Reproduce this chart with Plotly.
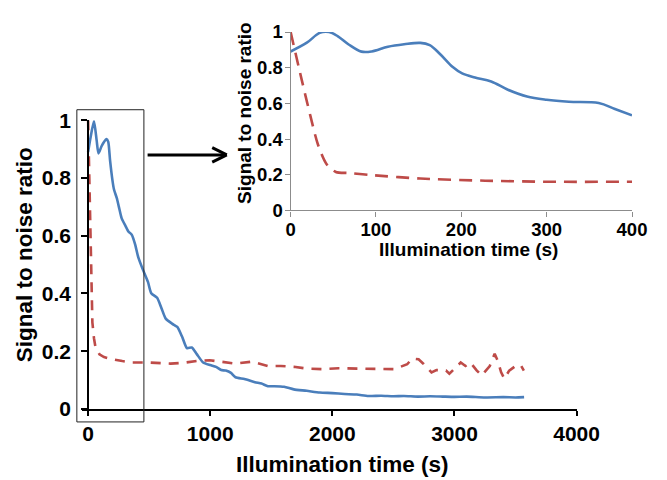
import plotly.graph_objects as go

# ---------------- data ----------------
main_time_blue = [0, 20, 48, 70, 85, 110, 130, 151, 165, 180, 200, 212, 235, 252, 275, 305, 330, 358, 385,
                  411, 451, 490, 517, 565, 600, 637, 690, 730, 770, 809, 849, 890, 942, 1000, 1048, 1090,
                  1127, 1170, 1207, 1280, 1366, 1420, 1472, 1525, 1605, 1684, 1790, 1897, 2000, 2100,
                  2200, 2295, 2400, 2500, 2586, 2700, 2800, 2904, 3000, 3100, 3250, 3400, 3500, 3570]
main_blue = [0.89, 0.94, 0.997, 0.93, 0.885, 0.91, 0.925, 0.935, 0.925, 0.86, 0.79, 0.76, 0.73, 0.70, 0.66,
             0.635, 0.615, 0.603, 0.57, 0.525, 0.48, 0.44, 0.401, 0.385, 0.35, 0.312, 0.295, 0.284, 0.25,
             0.211, 0.213, 0.19, 0.161, 0.152, 0.146, 0.135, 0.133, 0.125, 0.110, 0.104, 0.093, 0.088,
             0.079, 0.079, 0.077, 0.068, 0.063, 0.057, 0.055, 0.052, 0.050, 0.045, 0.046, 0.044, 0.045,
             0.043, 0.044, 0.043, 0.042, 0.043, 0.040, 0.041, 0.040, 0.041]

main_time_red = [0, 8, 13, 19, 27, 35, 48, 60, 75, 93, 130, 199, 280, 358, 491, 600, 676, 780, 889, 995,
                 1100, 1207, 1340, 1400, 1472, 1578, 1684, 1790, 1923, 2050, 2188, 2350, 2506, 2613, 2653,
                 2706, 2745, 2812, 2852, 2931, 2958, 3011, 3051, 3090, 3130, 3183, 3223, 3289, 3329, 3355,
                 3382, 3408, 3448, 3514, 3545, 3568]
main_red = [1.0, 0.85, 0.73, 0.625, 0.40, 0.30, 0.245, 0.215, 0.205, 0.189, 0.18, 0.172, 0.166, 0.161,
            0.161, 0.160, 0.157, 0.160, 0.166, 0.169, 0.162, 0.157, 0.164, 0.158, 0.149, 0.149, 0.146,
            0.140, 0.138, 0.141, 0.140, 0.139, 0.138, 0.155, 0.175, 0.172, 0.157, 0.127, 0.135, 0.133,
            0.122, 0.144, 0.161, 0.149, 0.161, 0.133, 0.116, 0.149, 0.191, 0.166, 0.127, 0.105, 0.133,
            0.153, 0.150, 0.133]

inset_time_blue = [0, 19, 34, 45, 55, 68, 83, 95, 114, 133, 152, 163, 175, 190, 201, 216, 235, 254, 277,
                   300, 326, 361, 380, 400]
inset_blue = [0.891, 0.94, 0.995, 1.0, 0.977, 0.93, 0.89, 0.891, 0.917, 0.931, 0.939, 0.926, 0.877, 0.804,
              0.768, 0.745, 0.723, 0.678, 0.638, 0.62, 0.609, 0.602, 0.569, 0.533]

inset_time_red = [0, 13, 23, 32, 42, 53, 68, 95, 152, 228, 304, 400]
inset_red = [1.0, 0.732, 0.533, 0.37, 0.261, 0.216, 0.21, 0.198, 0.179, 0.167, 0.161, 0.161]

main_x_ticks = [0, 1000, 2000, 3000, 4000]
inset_x_ticks = [0, 100, 200, 300, 400]
y_ticks = [0, 0.2, 0.4, 0.6, 0.8, 1]
y_tick_text = ["0", "0.2", "0.4", "0.6", "0.8", "1"]

x_title = "Illumination time (s)"
y_title = "Signal to noise ratio"

# ---------------- styling ----------------
BLUE = "#4A7EBB"
RED = "#BE4B48"
FONT = "Liberation Sans, Arial, Helvetica, sans-serif"
OFF = 8                      # default body margin of the page
W, H = 667 - OFF, 480 - OFF
ML, MR, MT, MB = 82 - OFF, 19, 21 - OFF, 71
PW, PH = W - ML - MR, H - MT - MB
P_LEFT, P_BOTTOM = ML + OFF, MT + OFF + PH   # plot area edges in window pixels


def pxx(x):
    return (x - P_LEFT) / PW


def pxy(y):
    return (P_BOTTOM - y) / PH


fig = go.Figure()

fig.add_trace(go.Scatter(x=main_time_red, y=main_red, mode="lines", xaxis="x", yaxis="y",
                         line=dict(color=RED, width=2.6, dash="10px,8px"), showlegend=False))
fig.add_trace(go.Scatter(x=main_time_blue, y=main_blue, mode="lines", xaxis="x", yaxis="y",
                         line=dict(color=BLUE, width=2.6, shape="spline", smoothing=0.6), showlegend=False))
fig.add_trace(go.Scatter(x=inset_time_red, y=inset_red, mode="lines", xaxis="x2", yaxis="y2",
                         line=dict(color=RED, width=2.6, dash="13px,8px", shape="spline", smoothing=0.8),
                         showlegend=False))
fig.add_trace(go.Scatter(x=inset_time_blue, y=inset_blue, mode="lines", xaxis="x2", yaxis="y2",
                         line=dict(color=BLUE, width=2.6, shape="spline", smoothing=1.0), showlegend=False))

main_tickfont = dict(family=FONT, size=21, color="black", weight="bold")
inset_tickfont = dict(family=FONT, size=18.5, color="black", weight="bold")

fig.update_layout(
    width=W, height=H,
    margin=dict(l=ML, r=MR, t=MT, b=MB, pad=0),
    paper_bgcolor="white", plot_bgcolor="rgba(0,0,0,0)",
    font=dict(family=FONT),
    xaxis=dict(domain=[0, pxx(591)], range=[-50, 4000], anchor="y",
               tickvals=main_x_ticks, ticks="outside", ticklen=5, tickwidth=2, tickcolor="black",
               showline=True, linecolor="black", linewidth=2, showgrid=False, zeroline=False,
               tickfont=main_tickfont, ticklabelstandoff=0),
    yaxis=dict(domain=[0, pxy(111.8)], range=[0, 1], anchor="free", position=pxx(88.3),
               tickvals=y_ticks, ticktext=y_tick_text, ticks="outside", ticklen=6, tickwidth=2,
               tickcolor="black", showline=True, linecolor="black", linewidth=2, showgrid=False,
               zeroline=False, tickfont=main_tickfont, ticklabelstandoff=6),
    xaxis2=dict(domain=[pxx(296.7), 1], range=[0, 400], anchor="y2",
                tickvals=inset_x_ticks, ticks="outside", ticklen=5, tickwidth=1.2, tickcolor="#8C8C8C",
                showline=True, linecolor="#8C8C8C", linewidth=1.2, showgrid=False, zeroline=False,
                tickfont=inset_tickfont, ticklabelstandoff=-3),
    yaxis2=dict(domain=[pxy(204.7), 1], range=[0, 1], anchor="x2",
                tickvals=y_ticks, ticktext=y_tick_text, ticks="outside", ticklen=5, tickwidth=1.2,
                tickcolor="#8C8C8C", showline=True, linecolor="#8C8C8C", linewidth=1.2, showgrid=False,
                zeroline=False, tickfont=inset_tickfont, ticklabelstandoff=-2),
)

title_main = dict(family=FONT, size=22.5, color="black", weight="bold")
title_inset = dict(family=FONT, size=19, color="black", weight="bold")
fig.add_annotation(text=x_title, xref="paper", yref="paper", x=pxx(350), y=pxy(466),
                   xanchor="center", yanchor="middle", showarrow=False, font=title_main)
fig.add_annotation(text=y_title, xref="paper", yref="paper", x=pxx(23), y=pxy(250), textangle=-90,
                   xanchor="center", yanchor="middle", showarrow=False, font=title_main)
fig.add_annotation(text=x_title, xref="paper", yref="paper", x=pxx(479.7), y=pxy(245),
                   xanchor="center", yanchor="middle", showarrow=False, font=title_inset)
fig.add_annotation(text=y_title, xref="paper", yref="paper", x=pxx(249), y=pxy(104), textangle=-90,
                   xanchor="center", yanchor="middle", showarrow=False, font=title_inset)

# zoom box around the early part of the main chart
fig.add_shape(type="rect", xref="paper", yref="paper", x0=pxx(76.7), x1=pxx(145.7),
              y0=pxy(422.3), y1=pxy(101), line=dict(color="#222222", width=1))
# arrow to the inset
arrow = dict(color="black", width=3)
fig.add_shape(type="line", xref="paper", yref="paper", x0=pxx(149.5), x1=pxx(230), y0=pxy(147.5),
              y1=pxy(147.5), line=arrow)
fig.add_shape(type="line", xref="paper", yref="paper", x0=pxx(216), x1=pxx(231), y0=pxy(140),
              y1=pxy(147.5), line=arrow)
fig.add_shape(type="line", xref="paper", yref="paper", x0=pxx(216), x1=pxx(231), y0=pxy(155),
              y1=pxy(147.5), line=arrow)

fig.write_html("out.html")
